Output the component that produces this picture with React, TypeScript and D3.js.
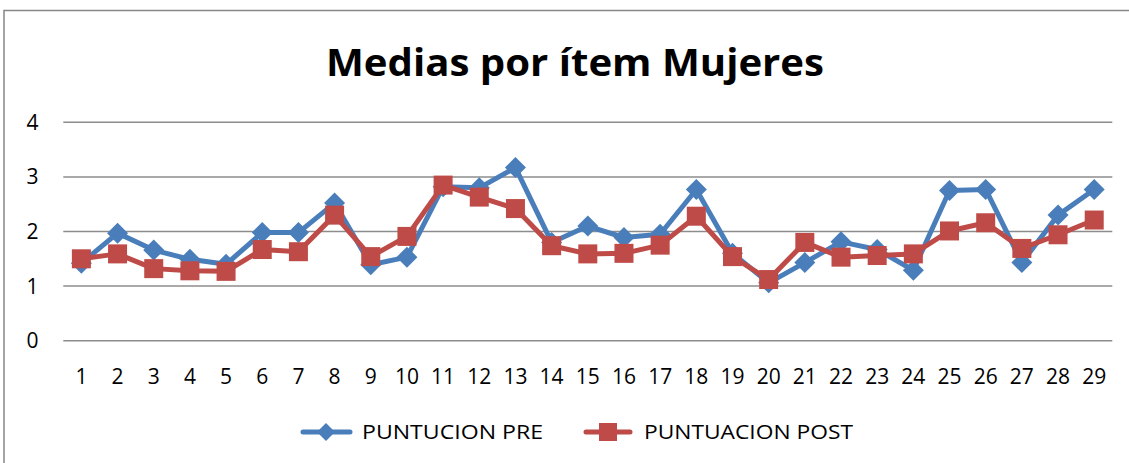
import React from "react";
import * as d3 from "d3";

const categories = Array.from({ length: 29 }, (_, i) => String(i + 1));
const preValues = [1.42, 1.97, 1.66, 1.49, 1.40, 1.98, 1.98, 2.52, 1.39, 1.53, 2.82, 2.80, 3.17, 1.80, 2.10, 1.89, 1.95, 2.77, 1.60, 1.06, 1.43, 1.81, 1.67, 1.29, 2.75, 2.77, 1.43, 2.30, 2.77];
const postValues = [1.50, 1.59, 1.32, 1.28, 1.27, 1.67, 1.63, 2.30, 1.54, 1.91, 2.85, 2.63, 2.42, 1.74, 1.59, 1.60, 1.75, 2.28, 1.54, 1.12, 1.80, 1.53, 1.56, 1.59, 2.01, 2.16, 1.69, 1.94, 2.21];
const yTicks = [0, 1, 2, 3, 4];
const seriesNames = ["PUNTUCION PRE", "PUNTUACION POST"];

const W = 1129, H = 463;
const BLUE = "#4a7ebb", RED = "#be4b48";
const FONT = "'Open Sans', 'Noto Sans', sans-serif";

export default function App() {
  const x = d3.scaleBand().domain(categories).range([63.3, 1112.3]);
  const y = d3.scaleLinear().domain([0, 4]).range([340.7, 122.3]);
  const cx = (c: string) => (x(c) as number) + x.bandwidth() / 2;
  const line = d3.line<number>().x((_, i) => cx(categories[i])).y((d) => y(d));
  const diamond = (px: number, py: number, r: number) =>
    `M${px},${py - r}L${px + r},${py}L${px},${py + r}L${px - r},${py}Z`;

  return (
    <svg width={W} height={H} style={{ position: "absolute", left: 0, top: 0, background: "#fff" }}>
      <rect x={4} y={10.5} width={1200} height={600} fill="none" stroke="#878787" strokeWidth={1.5} />
      <text x={575} y={75.5} textAnchor="middle" fontFamily={FONT} fontWeight="bold" fontSize={37} textLength={498} lengthAdjust="spacingAndGlyphs" fill="#000">
        Medias por ítem Mujeres
      </text>
      {yTicks.map((t) => (
        <g key={t}>
          <line x1={63.3} x2={1112.3} y1={y(t)} y2={y(t)} stroke="#8c8c8c" strokeWidth={1.5} />
          <text x={38.5} y={y(t) + 7.5} textAnchor="end" fontFamily={FONT} fontSize={21} fill="#000">{t}</text>
        </g>
      ))}
      {categories.map((c) => (
        <text key={c} x={cx(c)} y={383.5} textAnchor="middle" fontFamily={FONT} fontSize={21} fill="#000">{c}</text>
      ))}
      <path d={line(preValues) as string} fill="none" stroke={BLUE} strokeWidth={5} strokeLinejoin="round" />
      {preValues.map((v, i) => (
        <path key={i} d={diamond(cx(categories[i]), y(v), 10.5)} fill={BLUE} />
      ))}
      <path d={line(postValues) as string} fill="none" stroke={RED} strokeWidth={5} strokeLinejoin="round" />
      {postValues.map((v, i) => (
        <rect key={i} x={cx(categories[i]) - 9.5} y={y(v) - 9.5} width={19} height={19} fill={RED} />
      ))}
      <g>
        <line x1={303} x2={350} y1={432} y2={432} stroke={BLUE} strokeWidth={5} strokeLinecap="round" />
        <path d={diamond(326, 432, 9)} fill={BLUE} />
        <text x={362} y={439} fontFamily={FONT} fontSize={20} textLength={181} lengthAdjust="spacingAndGlyphs" fill="#000">{seriesNames[0]}</text>
        <line x1={586} x2={630} y1={432} y2={432} stroke={RED} strokeWidth={5} strokeLinecap="round" />
        <rect x={599} y={423} width={18} height={18} fill={RED} />
        <text x={644} y={439} fontFamily={FONT} fontSize={20} textLength={209} lengthAdjust="spacingAndGlyphs" fill="#000">{seriesNames[1]}</text>
      </g>
    </svg>
  );
}
